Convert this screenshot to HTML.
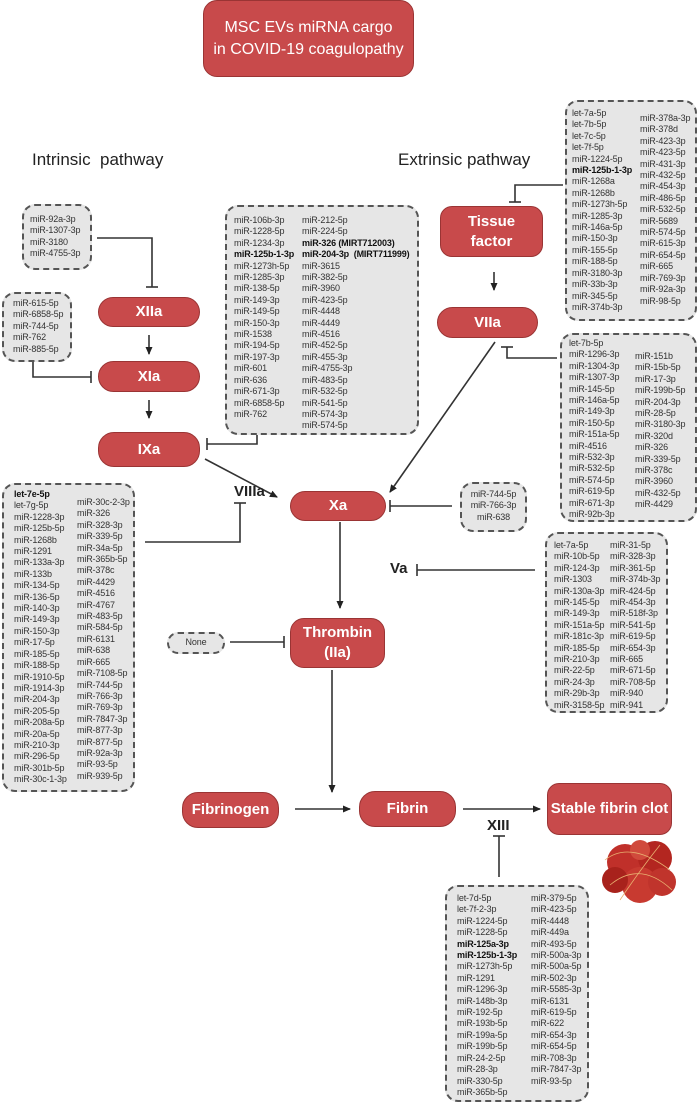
<!DOCTYPE html>
<html><head><meta charset="utf-8"><style>
*{margin:0;padding:0;box-sizing:border-box}
body{width:698px;height:1106px;position:relative;background:#fff;font-family:"Liberation Sans",sans-serif;overflow:hidden}
.pill{position:absolute;background:#c84a4b;border:1.5px solid #9a3434;border-radius:16px;color:#fff;font-weight:bold;display:flex;align-items:center;justify-content:center;text-align:center;font-size:15px;line-height:20px}
.box{position:absolute;background:#e6e6e6;border:2px dashed #555;border-radius:13px}
.col{position:absolute;font-size:9px;letter-spacing:-0.15px;line-height:11.4px;color:#333;white-space:nowrap}
.col b{color:#111}
.lbl{position:absolute;font-size:17px;color:#222}
svg{position:absolute;left:0;top:0}
</style></head><body>
<svg width="698" height="1106" viewBox="0 0 698 1106">
<defs><marker id="a" markerWidth="8" markerHeight="8" refX="7" refY="4" orient="auto" markerUnits="userSpaceOnUse"><path d="M0,0.5 L8,4 L0,7.5z" fill="#222"/></marker></defs>
<g stroke="#333" stroke-width="1.6" fill="none">
<polyline points="97,238 152,238 152,287"/><line x1="146" y1="287" x2="158" y2="287"/>
<polyline points="33,362 33,377 91,377"/><line x1="91" y1="371" x2="91" y2="383"/>
<line x1="149" y1="335" x2="149" y2="354" marker-end="url(#a)"/>
<line x1="149" y1="400" x2="149" y2="418" marker-end="url(#a)"/>
<polyline points="257,435 257,444 207,444"/><line x1="207" y1="438" x2="207" y2="450"/>
<line x1="205" y1="459" x2="277" y2="497" marker-end="url(#a)"/>
<polyline points="145,542 240,542 240,503"/><line x1="234" y1="503" x2="246" y2="503"/>
<polyline points="563,185 515,185 515,202"/><line x1="509" y1="202" x2="521" y2="202"/>
<line x1="494" y1="272" x2="494" y2="290" marker-end="url(#a)"/>
<polyline points="557,358 507,358 507,347"/><line x1="501" y1="347" x2="513" y2="347"/>
<line x1="495" y1="342" x2="390" y2="492" marker-end="url(#a)"/>
<line x1="452" y1="506" x2="390" y2="506"/><line x1="390" y1="500" x2="390" y2="512"/>
<line x1="340" y1="522" x2="340" y2="608" marker-end="url(#a)"/>
<line x1="535" y1="570" x2="417" y2="570"/><line x1="417" y1="564" x2="417" y2="576"/>
<line x1="230" y1="642" x2="284" y2="642"/><line x1="284" y1="636" x2="284" y2="648"/>
<line x1="332" y1="670" x2="332" y2="792" marker-end="url(#a)"/>
<line x1="295" y1="809" x2="350" y2="809" marker-end="url(#a)"/>
<line x1="463" y1="809" x2="540" y2="809" marker-end="url(#a)"/>
<line x1="499" y1="877" x2="499" y2="836"/><line x1="493" y1="836" x2="505" y2="836"/>
</g>
<g>
<circle cx="625" cy="862" r="18" fill="#c0302a"/><circle cx="655" cy="858" r="17" fill="#b32620"/>
<circle cx="640" cy="885" r="18" fill="#c83a30"/><circle cx="615" cy="880" r="13" fill="#a8221c"/>
<circle cx="662" cy="882" r="14" fill="#c0342c"/><circle cx="640" cy="850" r="10" fill="#d04a3c"/>
<path d="M605,860 Q630,840 670,870 M610,885 Q640,860 672,890 M620,900 Q640,870 660,845" stroke="#e8b070" stroke-width="0.8" fill="none"/>
</g>
</svg>

<div class="pill" style="left:203px;top:0;width:211px;height:77px;border-radius:14px;font-weight:normal;font-size:16px;line-height:22px">MSC EVs miRNA cargo<br>in COVID-19 coagulopathy</div>
<div class="lbl" style="left:32px;top:150px">Intrinsic&nbsp; pathway</div>
<div class="lbl" style="left:398px;top:150px">Extrinsic pathway</div>

<div class="pill" style="left:98px;top:297px;width:102px;height:30px">XIIa</div>
<div class="pill" style="left:98px;top:361px;width:102px;height:31px">XIa</div>
<div class="pill" style="left:98px;top:432px;width:102px;height:35px">IXa</div>
<div class="pill" style="left:440px;top:206px;width:103px;height:51px;border-radius:12px">Tissue<br>factor</div>
<div class="pill" style="left:437px;top:307px;width:101px;height:31px">VIIa</div>
<div class="pill" style="left:290px;top:491px;width:96px;height:30px">Xa</div>
<div class="pill" style="left:290px;top:618px;width:95px;height:50px;border-radius:14px">Thrombin<br>(IIa)</div>
<div class="pill" style="left:182px;top:792px;width:97px;height:36px">Fibrinogen</div>
<div class="pill" style="left:359px;top:791px;width:97px;height:36px">Fibrin</div>
<div class="pill" style="left:547px;top:783px;width:125px;height:52px;border-radius:12px">Stable fibrin clot</div>
<div class="lbl" style="left:234px;top:483px;font-weight:bold;font-size:15px">VIIIa</div>
<div class="lbl" style="left:390px;top:560px;font-weight:bold;font-size:15px">Va</div>
<div class="lbl" style="left:487px;top:817px;font-weight:bold;font-size:15px">XIII</div>

<div class="box" style="left:22px;top:204px;width:70px;height:66px"></div>
<div class="col" style="left:30px;top:214px">miR-92a-3p<br>miR-1307-3p<br>miR-3180<br>miR-4755-3p</div>

<div class="box" style="left:2px;top:292px;width:70px;height:70px"></div>
<div class="col" style="left:13px;top:298px">miR-615-5p<br>miR-6858-5p<br>miR-744-5p<br>miR-762<br>miR-885-5p</div>

<div class="box" style="left:225px;top:205px;width:194px;height:230px"></div>
<div class="col" style="left:234px;top:215px">miR-106b-3p<br>miR-1228-5p<br>miR-1234-3p<br><b>miR-125b-1-3p</b><br>miR-1273h-5p<br>miR-1285-3p<br>miR-138-5p<br>miR-149-3p<br>miR-149-5p<br>miR-150-3p<br>miR-1538<br>miR-194-5p<br>miR-197-3p<br>miR-601<br>miR-636<br>miR-671-3p<br>miR-6858-5p<br>miR-762</div>
<div class="col" style="left:302px;top:215px">miR-212-5p<br>miR-224-5p<br><b>miR-326 (MIRT712003)</b><br><b>miR-204-3p</b>&nbsp; <b>(MIRT711999)</b><br>miR-3615<br>miR-382-5p<br>miR-3960<br>miR-423-5p<br>miR-4448<br>miR-4449<br>miR-4516<br>miR-452-5p<br>miR-455-3p<br>miR-4755-3p<br>miR-483-5p<br>miR-532-5p<br>miR-541-5p<br>miR-574-3p<br>miR-574-5p</div>

<div class="box" style="left:565px;top:100px;width:132px;height:221px"></div>
<div class="col" style="left:572px;top:108px">let-7a-5p<br>let-7b-5p<br>let-7c-5p<br>let-7f-5p<br>miR-1224-5p<br><b>miR-125b-1-3p</b><br>miR-1268a<br>miR-1268b<br>miR-1273h-5p<br>miR-1285-3p<br>miR-146a-5p<br>miR-150-3p<br>miR-155-5p<br>miR-188-5p<br>miR-3180-3p<br>miR-33b-3p<br>miR-345-5p<br>miR-374b-3p</div>
<div class="col" style="left:640px;top:113px">miR-378a-3p<br>miR-378d<br>miR-423-3p<br>miR-423-5p<br>miR-431-3p<br>miR-432-5p<br>miR-454-3p<br>miR-486-5p<br>miR-532-5p<br>miR-5689<br>miR-574-5p<br>miR-615-3p<br>miR-654-5p<br>miR-665<br>miR-769-3p<br>miR-92a-3p<br>miR-98-5p</div>

<div class="box" style="left:560px;top:333px;width:137px;height:189px"></div>
<div class="col" style="left:569px;top:338px">let-7b-5p<br>miR-1296-3p<br>miR-1304-3p<br>miR-1307-3p<br>miR-145-5p<br>miR-146a-5p<br>miR-149-3p<br>miR-150-5p<br>miR-151a-5p<br>miR-4516<br>miR-532-3p<br>miR-532-5p<br>miR-574-5p<br>miR-619-5p<br>miR-671-3p<br>miR-92b-3p</div>
<div class="col" style="left:635px;top:351px">miR-151b<br>miR-15b-5p<br>miR-17-3p<br>miR-199b-5p<br>miR-204-3p<br>miR-28-5p<br>miR-3180-3p<br>miR-320d<br>miR-326<br>miR-339-5p<br>miR-378c<br>miR-3960<br>miR-432-5p<br>miR-4429</div>

<div class="box" style="left:460px;top:482px;width:67px;height:50px"></div>
<div class="col" style="left:460px;top:489px;width:67px;text-align:center">miR-744-5p<br>miR-766-3p<br>miR-638</div>

<div class="box" style="left:545px;top:532px;width:123px;height:181px"></div>
<div class="col" style="left:554px;top:540px">let-7a-5p<br>miR-10b-5p<br>miR-124-3p<br>miR-1303<br>miR-130a-3p<br>miR-145-5p<br>miR-149-3p<br>miR-151a-5p<br>miR-181c-3p<br>miR-185-5p<br>miR-210-3p<br>miR-22-5p<br>miR-24-3p<br>miR-29b-3p<br>miR-3158-5p</div>
<div class="col" style="left:610px;top:540px">miR-31-5p<br>miR-328-3p<br>miR-361-5p<br>miR-374b-3p<br>miR-424-5p<br>miR-454-3p<br>miR-518f-3p<br>miR-541-5p<br>miR-619-5p<br>miR-654-3p<br>miR-665<br>miR-671-5p<br>miR-708-5p<br>miR-940<br>miR-941</div>

<div class="box" style="left:2px;top:483px;width:133px;height:309px"></div>
<div class="col" style="left:14px;top:489px"><b>let-7e-5p</b><br>let-7g-5p<br>miR-1228-3p<br>miR-125b-5p<br>miR-1268b<br>miR-1291<br>miR-133a-3p<br>miR-133b<br>miR-134-5p<br>miR-136-5p<br>miR-140-3p<br>miR-149-3p<br>miR-150-3p<br>miR-17-5p<br>miR-185-5p<br>miR-188-5p<br>miR-1910-5p<br>miR-1914-3p<br>miR-204-3p<br>miR-205-5p<br>miR-208a-5p<br>miR-20a-5p<br>miR-210-3p<br>miR-296-5p<br>miR-301b-5p<br>miR-30c-1-3p</div>
<div class="col" style="left:77px;top:497px">miR-30c-2-3p<br>miR-326<br>miR-328-3p<br>miR-339-5p<br>miR-34a-5p<br>miR-365b-5p<br>miR-378c<br>miR-4429<br>miR-4516<br>miR-4767<br>miR-483-5p<br>miR-584-5p<br>miR-6131<br>miR-638<br>miR-665<br>miR-7108-5p<br>miR-744-5p<br>miR-766-3p<br>miR-769-3p<br>miR-7847-3p<br>miR-877-3p<br>miR-877-5p<br>miR-92a-3p<br>miR-93-5p<br>miR-939-5p</div>

<div class="box" style="left:167px;top:632px;width:58px;height:22px;border-radius:11px"></div>
<div class="col" style="left:167px;top:637px;width:58px;text-align:center">None</div>

<div class="box" style="left:445px;top:885px;width:144px;height:217px"></div>
<div class="col" style="left:457px;top:893px">let-7d-5p<br>let-7f-2-3p<br>miR-1224-5p<br>miR-1228-5p<br><b>miR-125a-3p</b><br><b>miR-125b-1-3p</b><br>miR-1273h-5p<br>miR-1291<br>miR-1296-3p<br>miR-148b-3p<br>miR-192-5p<br>miR-193b-5p<br>miR-199a-5p<br>miR-199b-5p<br>miR-24-2-5p<br>miR-28-3p<br>miR-330-5p<br>miR-365b-5p</div>
<div class="col" style="left:531px;top:893px">miR-379-5p<br>miR-423-5p<br>miR-4448<br>miR-449a<br>miR-493-5p<br>miR-500a-3p<br>miR-500a-5p<br>miR-502-3p<br>miR-5585-3p<br>miR-6131<br>miR-619-5p<br>miR-622<br>miR-654-3p<br>miR-654-5p<br>miR-708-3p<br>miR-7847-3p<br>miR-93-5p</div>
</body></html>
